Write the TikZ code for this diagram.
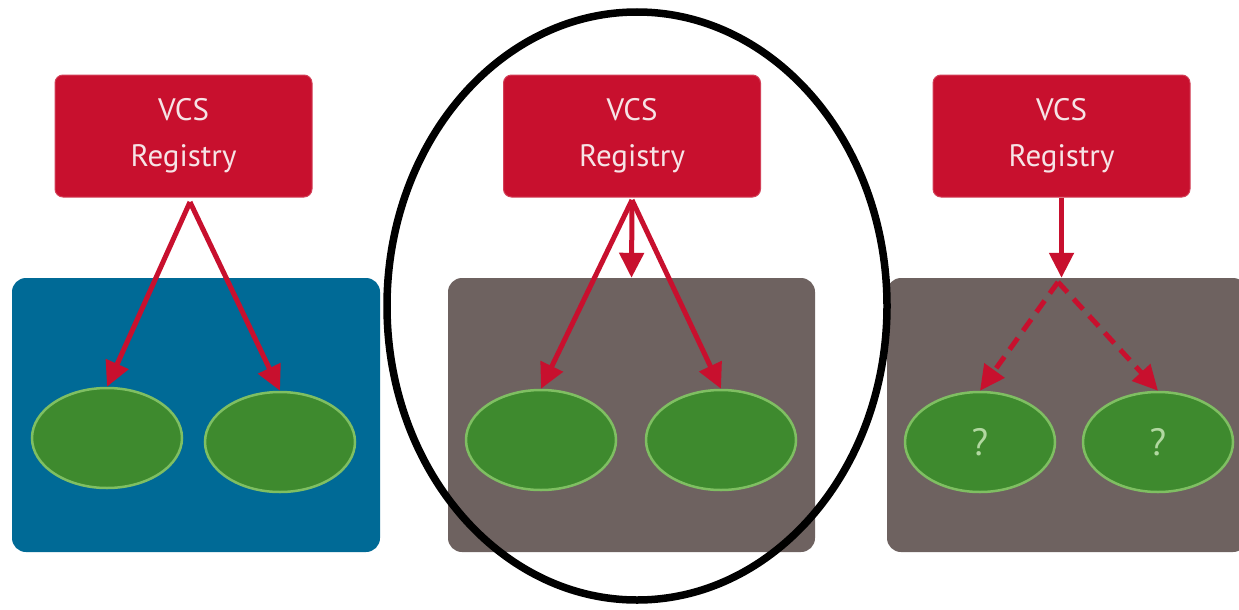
\documentclass[tikz,border=0pt]{standalone}
\usepackage{fontspec}
\setmainfont{PT Sans}
\usetikzlibrary{arrows.meta,shapes.geometric}
\definecolor{regred}{HTML}{C8102E}
\definecolor{panblue}{HTML}{006A96}
\definecolor{pangray}{HTML}{6E6260}
\definecolor{podgreen}{HTML}{3E8A2E}
\definecolor{podrim}{HTML}{7FBF62}
\definecolor{txtpink}{HTML}{F6E4E6}
\tikzset{
  registry/.style={rectangle, rounded corners=8pt, fill=regred, draw=regred!80!white, line width=1pt,
    minimum width=257pt, minimum height=122pt, align=center, text=txtpink,
    font=\fontsize{31}{46}\selectfont, inner sep=0pt},
  panel/.style={rectangle, rounded corners=14pt, minimum height=274pt, inner sep=0pt},
  pod/.style={ellipse, fill=podgreen, draw=podrim, line width=2.5pt, minimum width=150pt,
    minimum height=100pt, inner sep=0pt, text=podrim!60!white, font=\fontsize{38}{40}\selectfont},
  flow/.style={draw=regred, line width=5pt, -{Triangle[length=25pt,width=24pt]}},
  dflow/.style={flow, dash pattern=on 14pt off 9pt},
}
\begin{document}
\begin{tikzpicture}[x=1pt,y=-1pt]
\useasboundingbox[fill=white] (0,0) rectangle (1239,610);
% panels
\node[panel, fill=panblue, minimum width=368pt] (p1) at (196,415) {};
\node[panel, fill=pangray, minimum width=367pt] (p2) at (631.5,415) {};
\node[panel, fill=pangray, minimum width=360pt] (p3) at (1067,415) {};
% registries
\node[registry] (r1) at (183.5,136) {VCS\\Registry};
\node[registry] (r2) at (632,136) {VCS\\Registry};
\node[registry] (r3) at (1061.5,136) {VCS\\Registry};
% pods
\node[pod] (e1) at (107,438) {};
\node[pod] (e2) at (280,442) {};
\node[pod] (e3) at (541,440) {};
\node[pod] (e4) at (721,440) {};
\node[pod] (e5) at (980,442) {?};
\node[pod] (e6) at (1158,442) {?};
% connectors
\coordinate (s1) at (190,202);
\draw[flow] (s1) -- (e1.north);
\draw[flow] (s1) -- (e2.north);
\coordinate (s2) at (632,200);
\draw[flow] (s2) -- (e3.north);
\draw[flow] (s2) -- (e4.north);
\draw[flow] (s2) -- (p2.north);
\draw[flow] (r3.south) -- (p3.north -| r3.south);
\coordinate (s3) at (1058,282);
\draw[dflow] (s3) -- (e5.north);
\draw[dflow] (s3) -- (e6.north);
% highlight ring
\node[ellipse, draw=black, line width=7.5pt, minimum width=500pt, minimum height=588pt, inner sep=0pt] (ring) at (637,306) {};
\end{tikzpicture}
\end{document}
